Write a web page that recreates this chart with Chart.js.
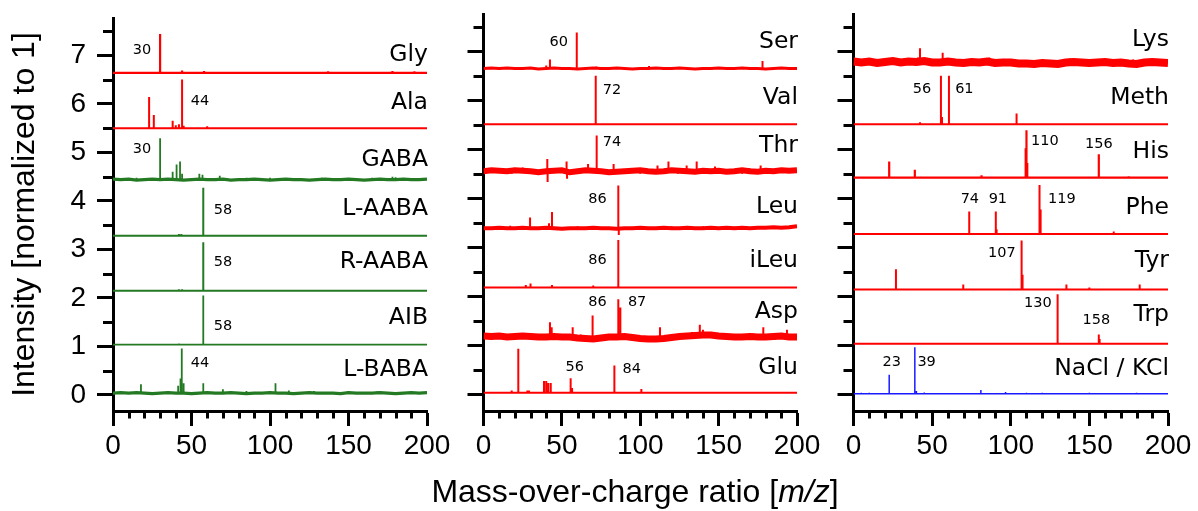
<!DOCTYPE html>
<html><head><meta charset="utf-8">
<script src="https://cdn.jsdelivr.net/npm/chart.js@4.4.1/dist/chart.umd.min.js"></script>
<style>
html,body{margin:0;padding:0;background:#fff;}
#wrap{position:relative;width:1198px;height:511px;overflow:hidden;background:#fff;}
canvas{position:absolute;left:0;top:0;}
</style></head><body>
<div id="wrap">
<canvas id="c1" width="1198" height="511"></canvas>
<canvas id="c2" width="1198" height="511"></canvas>
<canvas id="c3" width="1198" height="511"></canvas>
</div>
<script>
// ---------- axes ----------
const xTickValues = [0, 50, 100, 150, 200];
const xMinorValues = [10,20,30,40,60,70,80,90,110,120,130,140,160,170,180,190];
const yTickValues = [0,1,2,3,4,5,6,7];
const yMinorValues = [0.5,1.5,2.5,3.5,4.5,5.5,6.5,7.5];
const bandMz = [0,5,10,15,20,25,30,35,40,45,50,55,60,65,70,75,80,85,90,95,100,105,110,115,120,125,130,135,140,145,150,155,160,165,170,175,180,185,190,195,200];

// ---------- left panel ----------
const leftNames = ['Gly','Ala','GABA','L-AABA','R-AABA','AIB','L-BABA'];
const leftOffsets = [6.64, 5.50, 4.44, 3.28, 2.15, 1.04, 0.04];
const leftNameY = [7.01, 6.03, 4.85, 3.84, 2.74, 1.59, 0.52];
const glyPeaks = [[12,0.02],[30,0.80],[44,0.05],[58,0.04],[72,0.02],[85,0.02],[99,0.02],[120,0.02],[137,0.03],[160,0.02],[178,0.04],[192,0.03]];
const alaPeaks = [[23,0.64],[26,0.27],[38,0.15],[40,0.06],[42,0.08],[44,1.0],[45,0.05],[60,0.04],[75,0.02],[140,0.02]];
const gabaPeaks = [[15,0.04],[30,0.85],[38,0.16],[40.5,0.31],[42.7,0.37],[44,0.12],[55,0.12],[57,0.10],[68,0.08],[85,0.04],[100,0.04],[118,0.03],[133,0.04],[150,0.03],[165,0.04],[178,0.06],[180,0.05]];
const laabaPeaks = [[42,0.04],[43.5,0.04],[57.5,0.99],[86,0.02],[140,0.02]];
const raabaPeaks = [[42,0.03],[44,0.03],[57.5,1.0],[176,0.02]];
const aibPeaks = [[42,0.02],[57.5,1.01]];
const lbabaPeaks = [[17.8,0.18],[41.5,0.15],[43,0.30],[43.8,0.92],[45,0.20],[57.5,0.20],[70,0.08],[85,0.04],[103.5,0.20],[112,0.05],[128,0.04],[150,0.04],[168,0.03]];
const gabaBand = [0.01,0.0,0.01,-0.01,0.0,0.01,0.0,0.01,0.0,-0.01,0.0,0.01,0.0,0.0,0.01,-0.01,0.0,0.0,0.01,0.0,-0.01,0.0,0.01,0.0,0.0,-0.01,0.0,0.01,0.0,0.0,0.01,0.0,-0.01,0.0,0.01,0.0,0.0,0.01,0.0,0.0,0.01];
const lbabaBand = [0.0,0.01,0.0,0.01,0.0,-0.01,0.0,0.01,0.0,0.0,-0.01,0.0,0.01,0.0,0.0,0.01,0.0,-0.01,0.0,0.0,0.01,0.0,0.0,-0.01,0.0,0.01,0.0,0.0,0.0,-0.01,0.01,0.0,0.0,0.0,0.01,0.0,-0.01,0.0,0.01,0.0,0.01];
const leftPeakLabels = [['30',18.5,7.11],['44',55.4,6.06],['30',18.5,5.07],['58',70,3.81],['58',70,2.74],['58',70,1.41],['44',55.4,0.66]];

// ---------- middle panel ----------
const midNames = ['Ser','Val','Thr','Leu','iLeu','Asp','Glu'];
const midOffsets = [6.66, 5.52, 4.56, 3.40, 2.19, 1.18, 0.04];
const midNameY = [7.21, 6.05, 5.08, 3.84, 2.73, 1.70, 0.54];
const serPeaks = [[20,0.03],[40,0.06],[42.4,0.18],[59.5,0.73],[72,0.04],[105.6,0.05],[150,0.03],[178,0.15]];
const valPeaks = [[54.5,0.02],[71.6,0.99],[110,0.02],[180,0.02]];
const thrPeaks = [[6,0.05],[12,0.06],[18,-0.05],[25,0.08],[33,0.05],[40.7,0.25],[40.9,-0.22],[47,0.06],[53,0.20],[53.3,-0.15],[60,0.05],[66.7,0.15],[72.2,0.73],[78,-0.05],[83,0.15],[92,0.05],[100,-0.05],[111,0.12],[118,0.20],[124,-0.05],[129.6,0.12],[136,0.20],[142,0.05],[147.7,0.10],[158,0.05],[165,-0.05],[170,0.06],[176.8,0.12],[185,0.05],[192,0.06]];
const leuPeaks = [[8,0.04],[17,0.05],[29.7,0.22],[41.8,0.10],[43.7,0.33],[60,0.04],[72,0.04],[86,0.87],[86.3,-0.14],[100,0.04],[120,0.04],[140,0.04],[160,0.03],[185,0.04]];
const ileuPeaks = [[27,0.05],[30,0.08],[43.7,0.05],[57,0.02],[70,0.04],[86,0.97]];
const aspPeaks = [[8,0.06],[15,-0.06],[24,0.05],[32,-0.05],[42.4,0.30],[43.5,0.20],[50,-0.05],[56.9,0.20],[62,0.05],[69.6,0.44],[76,-0.06],[86,0.77],[87.3,0.60],[95,0.05],[104,-0.06],[112.6,0.20],[120,0.06],[128,0.07],[133,0.10],[138,0.25],[140,0.15],[150,0.06],[158,-0.05],[166,0.06],[172,0.07],[178.5,0.20],[186,-0.05],[193.6,0.15]];
const gluPeaks = [[18,0.05],[22.2,0.90],[28,0.05],[29,0.05],[38.6,0.24],[40,0.24],[41.3,0.20],[42.9,0.20],[55.6,0.30],[56.5,0.10],[83.5,0.56],[100.7,0.08],[130,0.02],[160,0.02]];
const serBand = [0.0,0.01,0.0,0.01,0.0,0.0,0.01,-0.01,0.0,0.01,0.0,0.0,-0.01,0.0,0.01,0.0,0.0,0.01,0.0,-0.01,0.0,0.0,0.01,0.0,0.0,0.01,0.0,-0.01,0.0,0.0,0.01,0.0,0.0,0.01,0.0,0.0,-0.01,0.0,0.01,0.0,0.0];
const thrBand = [0.0,0.02,0.01,0.0,0.02,0.01,0.0,-0.02,0.0,0.01,0.02,-0.02,0.0,0.02,0.01,0.0,-0.02,-0.01,0.0,0.01,0.02,0.0,-0.01,0.0,0.02,0.01,0.0,-0.01,0.01,0.0,0.01,-0.01,0.0,0.02,0.0,-0.01,0.01,0.0,0.02,0.01,0.02];
const leuBand = [0.0,0.0,0.01,0.0,0.0,0.01,0.0,0.0,0.01,0.0,-0.01,0.0,0.0,0.0,0.01,0.0,0.0,-0.01,0.0,0.0,0.01,0.0,0.0,0.01,0.0,0.0,0.01,0.0,0.0,0.01,0.0,0.01,0.0,0.01,0.0,0.01,0.01,0.02,0.01,0.02,0.04];
const aspBand = [0.02,0.01,0.02,0.0,0.01,0.02,0.01,0.0,0.0,0.01,0.0,0.0,-0.02,-0.03,-0.04,-0.02,0.0,0.0,0.01,-0.01,-0.03,-0.04,-0.04,-0.03,-0.01,0.01,0.02,0.03,0.04,0.04,0.02,0.01,0.0,0.0,0.01,0.0,0.0,0.01,0.02,0.0,0.0];
const midPeakLabels = [['60',48,7.19],['72',82,6.22],['74',82,5.15],['86',72.7,4.0],['86',72.7,2.75],['86',72.7,1.88],['87',98,1.88],['56',58.2,0.57],['84',94.5,0.52]];

// ---------- right panel ----------
const rightNames = ['Lys','Meth','His','Phe','Tyr','Trp','NaCl / KCl'];
const rightOffsets = [6.78, 5.52, 4.43, 3.28, 2.15, 1.04, 0.02];
const rightNameY = [7.24, 6.05, 4.95, 3.82, 2.74, 1.63, 0.53];
const lysPeaks = [[5,0.05],[10,0.06],[18,-0.05],[25,0.06],[33,-0.05],[41,0.10],[42.3,0.29],[48,0.06],[56.7,0.20],[63,-0.05],[70,0.05],[78,0.05],[86.3,0.10],[95,-0.05],[102,0.05],[110,-0.06],[118,-0.05],[125,0.05],[137.5,0.08],[145,0.05],[152,-0.05],[160,0.05],[168,-0.05],[177.8,0.06],[185,0.05],[195,-0.05]];
const methPeaks = [[22,0.02],[42.3,0.04],[55.6,0.99],[56.3,0.15],[60.7,0.99],[85,0.02],[103.7,0.22],[160,0.02]];
const hisPeaks = [[22.7,0.33],[39,0.16],[81.4,0.05],[109.5,0.60],[110,0.97],[110.5,0.30],[133,0.02],[156,0.48],[175,0.03]];
const phePeaks = [[73.6,0.46],[90.5,0.46],[91,0.10],[118,0.50],[118.5,1.0],[119,0.50],[165.5,0.05]];
const tyrPeaks = [[17,0.02],[27,0.41],[69.8,0.10],[106.9,1.0],[107.5,0.30],[135.4,0.10],[150,0.04],[182,0.10]];
const trpPeaks = [[129.5,1.01],[130,0.50],[156,0.19],[156.5,0.10]];
const naclPeaks = [[5,0.02],[10,0.02],[22.7,0.39],[39,0.95],[40,0.06],[45,0.03],[81,0.08],[96.7,0.04],[110,0.02],[120,0.02],[150,0.02],[180,0.02]];
const lysBand = [0.02,0.0,0.02,-0.01,0.01,0.03,0.0,0.02,0.01,0.03,0.0,0.0,0.02,0.0,-0.01,0.01,0.0,0.02,-0.01,0.0,0.0,-0.02,-0.02,-0.03,-0.01,-0.02,-0.03,0.0,0.01,0.0,-0.01,0.0,0.01,-0.01,0.0,-0.02,-0.03,0.0,0.01,0.0,-0.01];
const rightPeakLabels = [['56',43.6,6.23],['61',70.5,6.23],['110',121.7,5.17],['156',156,5.12],['74',74,4.0],['91',91.8,4.0],['119',132.5,4.0],['107',94.3,2.88],['130',117.3,1.86],['158',154.5,1.52],['23',24.3,0.67],['39',46.5,0.67]];

// ---------- styles ----------
const RED = '#ff0000', GREEN = '#237a23', BLUE = '#1a1aff';

function sortedPeaks(p){ return p.slice().sort((a,b)=>a[0]-b[0]); }
function cleanSeries(offset, peaks){
  const pts = [{x:0,y:offset}];
  sortedPeaks(peaks).forEach(([m,h])=>{ pts.push({x:m,y:offset},{x:m,y:offset+h},{x:m,y:offset}); });
  pts.push({x:200,y:offset});
  return pts;
}
function stickSeries(offset, peaks){
  const pts = [];
  sortedPeaks(peaks).forEach(([m,h])=>{ pts.push({x:m,y:offset},{x:m,y:offset+h},{x:m,y:null}); });
  return pts;
}
function bandSeries(offset, band){
  return band.map((d,i)=>({x:bandMz[i], y:offset+d}));
}
function ds(data, color, width){
  return {data, borderColor:color, borderWidth:width, pointRadius:0, fill:false, tension:0, spanGaps:false, borderJoinStyle:'miter'};
}
function spectrum(offset, peaks, color, width, band, bandWidth){
  if (band) return [ds(bandSeries(offset, band), color, bandWidth), ds(stickSeries(offset, peaks), color, width)];
  return [ds(cleanSeries(offset, peaks), color, width)];
}

const leftDatasets = [].concat(
  spectrum(leftOffsets[0], glyPeaks, RED, 2.2),
  spectrum(leftOffsets[1], alaPeaks, RED, 2),
  spectrum(leftOffsets[2], gabaPeaks, GREEN, 1.8, gabaBand, 3.2),
  spectrum(leftOffsets[3], laabaPeaks, GREEN, 2),
  spectrum(leftOffsets[4], raabaPeaks, GREEN, 2),
  spectrum(leftOffsets[5], aibPeaks, GREEN, 1.8),
  spectrum(leftOffsets[6], lbabaPeaks, GREEN, 1.8, lbabaBand, 3.2)
);
const midDatasets = [].concat(
  spectrum(midOffsets[0], serPeaks, RED, 2, serBand, 3),
  spectrum(midOffsets[1], valPeaks, RED, 2),
  spectrum(midOffsets[2], thrPeaks, RED, 2, thrBand, 6),
  spectrum(midOffsets[3], leuPeaks, RED, 2, leuBand, 4),
  spectrum(midOffsets[4], ileuPeaks, RED, 2),
  spectrum(midOffsets[5], aspPeaks, RED, 2, aspBand, 7),
  spectrum(midOffsets[6], gluPeaks, RED, 2)
);
const rightDatasets = [].concat(
  spectrum(rightOffsets[0], lysPeaks, RED, 2, lysBand, 8),
  spectrum(rightOffsets[1], methPeaks, RED, 2),
  spectrum(rightOffsets[2], hisPeaks, RED, 2.2),
  spectrum(rightOffsets[3], phePeaks, RED, 2),
  spectrum(rightOffsets[4], tyrPeaks, RED, 2),
  spectrum(rightOffsets[5], trpPeaks, RED, 2),
  spectrum(rightOffsets[6], naclPeaks, BLUE, 1.5)
);

const minorTicks = {
  id:'minorTicks',
  afterDraw(chart){
    const {ctx, scales:{x, y}} = chart;
    ctx.save();
    ctx.strokeStyle = '#000'; ctx.lineWidth = 3; ctx.lineCap = 'butt';
    ctx.beginPath();
    xMinorValues.forEach(v=>{ const px = Math.round(x.getPixelForValue(v)) + 0.5; ctx.moveTo(px, x.top + 1); ctx.lineTo(px, x.top + 7.5); });
    yMinorValues.forEach(v=>{ const py = Math.round(y.getPixelForValue(v)) + 0.5; ctx.moveTo(y.right - 10, py); ctx.lineTo(y.right - 1, py); });
    ctx.stroke();
    ctx.restore();
  }
};

function textPlugin(names, nameY, peakLabels, withXTitle){
  return {
    id:'texts',
    afterDatasetsDraw(chart){
      const {ctx, scales:{x, y}} = chart;
      ctx.save();
      ctx.fillStyle = '#000';
      ctx.textBaseline = 'middle';
      ctx.font = '23.5px "DejaVu Sans"';
      ctx.textAlign = 'right';
      names.forEach((n,i)=>ctx.fillText(n, x.getPixelForValue(200) + 1, y.getPixelForValue(nameY[i])));
      ctx.font = '14.5px "DejaVu Sans"';
      ctx.textAlign = 'center';
      peakLabels.forEach(([t, m, v])=>ctx.fillText(t, x.getPixelForValue(m), y.getPixelForValue(v)));
      if (withXTitle) {
        const a = 'Mass-over-charge ratio [', b = 'm/z', c = ']';
        const F = '32px "Liberation Sans"', FI = 'italic 32px "Liberation Sans"';
        ctx.textBaseline = 'alphabetic'; ctx.textAlign = 'left';
        ctx.font = F; const wa = ctx.measureText(a).width, wc = ctx.measureText(c).width;
        ctx.font = FI; const wb = ctx.measureText(b).width;
        let sx = 635 - (wa + wb + wc) / 2; const by = 502;
        ctx.font = F; ctx.fillText(a, sx, by); sx += wa;
        ctx.font = FI; ctx.fillText(b, sx, by); sx += wb;
        ctx.font = F; ctx.fillText(c, sx, by);
      }
      ctx.restore();
    }
  };
}

function makeChart(id, datasets, padLeft, padRight, yWidth, showY, plugin){
  return new Chart(document.getElementById(id), {
    type:'line',
    data:{datasets},
    options:{
      responsive:false, animation:false, devicePixelRatio:1, events:[],
      layout:{padding:{left:padLeft, right:padRight, top:14, bottom:40}},
      plugins:{legend:{display:false}, tooltip:{enabled:false}},
      scales:{
        x:{type:'linear', min:0, max:200, position:'bottom',
          afterBuildTicks:s=>{ s.ticks = xTickValues.map(v=>({value:v})); },
          ticks:{font:{family:'Liberation Sans', size:28}, color:'#000', padding:3, maxRotation:0, autoSkip:false},
          grid:{drawOnChartArea:false, drawTicks:true, tickLength:15, tickWidth:3, tickColor:'#000'},
          border:{display:true, width:3, color:'#000'},
          afterFit:s=>{ s.height = 60; }},
        y:{type:'linear', min:-0.33, max:7.77, position:'left',
          afterBuildTicks:s=>{ s.ticks = yTickValues.map(v=>({value:v})); },
          ticks:{display:showY, font:{family:'Liberation Sans', size:28, lineHeight:0.5}, color:'#000', padding:11},
          grid:{drawOnChartArea:false, drawTicks:true, tickLength:16, tickWidth:3, tickColor:'#000'},
          border:{display:true, width:3, color:'#000'},
          title:{display:showY, text:'Intensity [normalized to 1]', font:{family:'Liberation Sans', size:32}, color:'#000', padding:{top:6, bottom:0}},
          afterFit:s=>{ s.width = yWidth; }}
      }
    },
    plugins:[minorTicks, plugin]
  });
}

makeChart('c1', leftDatasets, 0, 771, 113, true, textPlugin(leftNames, leftNameY, leftPeakLabels, false));
makeChart('c2', midDatasets, 453.5, 401, 30, false, textPlugin(midNames, midNameY, midPeakLabels, true));
makeChart('c3', rightDatasets, 823.5, 30, 30, false, textPlugin(rightNames, rightNameY, rightPeakLabels, false));
</script>
</body></html>
